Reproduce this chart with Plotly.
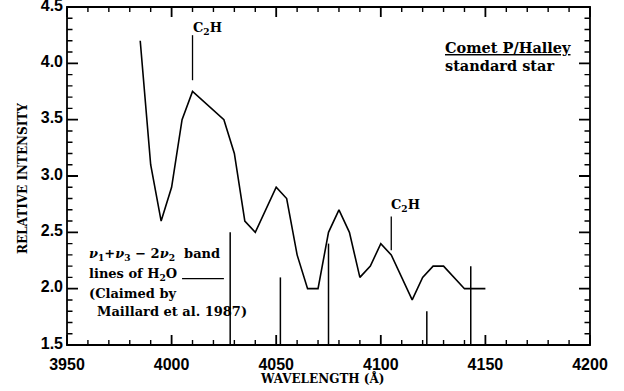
import plotly.graph_objects as go

# Spectrum (wavelength in Å, relative intensity)
wavelength = [3985, 3990, 3995, 4000, 4005, 4010, 4025, 4030, 4035, 4040, 4050, 4055,
              4060, 4065, 4070, 4075, 4080, 4085, 4090, 4095, 4100, 4105, 4115, 4120,
              4125, 4130, 4140, 4145, 4150]
intensity = [4.2, 3.1, 2.6, 2.9, 3.5, 3.75, 3.5, 3.2, 2.6, 2.5, 2.9, 2.8,
             2.3, 2.0, 2.0, 2.5, 2.7, 2.5, 2.1, 2.2, 2.4, 2.3, 1.9, 2.1,
             2.2, 2.2, 2.0, 2.0, 2.0]

# H2O band lines (Maillard et al. 1987): positions and heights
h2o_wavelength = [4028, 4052, 4075, 4122, 4143]
h2o_top = [2.5, 2.1, 2.4, 1.8, 2.2]
axis_floor = 1.5

# C2H features: position, line bottom, line top, label height
c2h_wavelength = [4010, 4105]
c2h_low = [3.85, 2.34]
c2h_high = [4.25, 2.64]
c2h_label_y = [4.31, 2.74]

# Leader line for the H2O label
leader_x = [4005, 4025]
leader_y = [2.09, 2.09]

x_range = [3950, 4200]
y_range = [1.5, 4.5]
x_ticks = [3950, 4000, 4050, 4100, 4150, 4200]
y_ticks = [1.5, 2.0, 2.5, 3.0, 3.5, 4.0, 4.5]
x_minor_step = 10
y_minor_step = 0.1

W, H = 624, 391
M = dict(l=67, r=34, t=7, b=46)
plot_w = W - M["l"] - M["r"]
plot_h = H - M["t"] - M["b"]

label_font = dict(family="DejaVu Serif", size=13, color="black", weight="bold")

fig = go.Figure()

fig.add_trace(go.Scatter(x=wavelength, y=intensity, mode="lines",
                         line=dict(color="black", width=1.6), showlegend=False))

vx, vy = [], []
for w, t in zip(h2o_wavelength, h2o_top):
    vx += [w, w, None]
    vy += [axis_floor, t, None]
fig.add_trace(go.Scatter(x=vx, y=vy, mode="lines",
                         line=dict(color="black", width=1.5), showlegend=False))

cx, cy = [], []
for w, lo, hi in zip(c2h_wavelength, c2h_low, c2h_high):
    cx += [w, w, None]
    cy += [lo, hi, None]
fig.add_trace(go.Scatter(x=cx, y=cy, mode="lines",
                         line=dict(color="black", width=1.3), showlegend=False))

fig.add_trace(go.Scatter(x=leader_x, y=leader_y, mode="lines",
                         line=dict(color="black", width=1.2), showlegend=False))

# Inward ticks on all four sides, as paper-coordinate paths built from the axis ticks
def tick_path(major):
    parts = []
    n_x = int(round((x_range[1] - x_range[0]) / x_minor_step))
    ly = (10 if major else 5) / plot_h
    for i in range(n_x + 1):
        v = x_range[0] + i * x_minor_step
        if (v in x_ticks) != major:
            continue
        p = (v - x_range[0]) / (x_range[1] - x_range[0])
        parts.append(f"M{p:.5f},0 L{p:.5f},{ly:.5f}")
        parts.append(f"M{p:.5f},1 L{p:.5f},{1 - ly:.5f}")
    n_y = int(round((y_range[1] - y_range[0]) / y_minor_step))
    lx = (11 if major else 5.5) / plot_w
    for i in range(n_y + 1):
        v = round(y_range[0] + i * y_minor_step, 2)
        if any(abs(v - t) < 1e-6 for t in y_ticks) != major:
            continue
        q = (v - y_range[0]) / (y_range[1] - y_range[0])
        parts.append(f"M0,{q:.5f} L{lx:.5f},{q:.5f}")
        parts.append(f"M1,{q:.5f} L{1 - lx:.5f},{q:.5f}")
    return " ".join(parts)

shapes = [dict(type="rect", xref="paper", yref="paper", x0=0, x1=1, y0=0, y1=1,
               line=dict(color="black", width=1.8), layer="above")]
for major, width in ((True, 1.8), (False, 1.4)):
    shapes.append(dict(type="path", xref="paper", yref="paper", path=tick_path(major),
                       line=dict(color="black", width=width), layer="above"))

annotations = []
for w, ly in zip(c2h_wavelength, c2h_label_y):
    annotations.append(dict(x=w, y=ly, xshift=-2, text="C<sub>2</sub>H", showarrow=False,
                            xanchor="left", yanchor="middle", font=label_font))

annotations += [
    dict(x=4129.7, y=4.145, text="<u>Comet P/Halley</u>", showarrow=False,
         xanchor="left", yanchor="middle", font=dict(label_font, size=14.5)),
    dict(x=4129.7, y=3.985, text="standard star", showarrow=False,
         xanchor="left", yanchor="middle", font=dict(label_font, size=14.5)),
    dict(x=3959.4, y=2.30, text="<i>ν</i><sub>1</sub>+<i>ν</i><sub>3</sub> − 2<i>ν</i><sub>2</sub>  band",
         showarrow=False, xanchor="left", yanchor="middle", font=label_font),
    dict(x=3959.4, y=2.13, text="lines of H<sub>2</sub>O", showarrow=False,
         xanchor="left", yanchor="middle", font=label_font),
    dict(x=3959.4, y=1.96, text="(Claimed by", showarrow=False,
         xanchor="left", yanchor="middle", font=label_font),
    dict(x=3963.4, y=1.80, text="Maillard et al. 1987)", showarrow=False,
         xanchor="left", yanchor="middle", font=label_font),
    dict(xref="paper", yref="paper", x=0.5, y=0, xshift=-6, yshift=-33,
         text="WAVELENGTH (Å)", showarrow=False, xanchor="center", yanchor="middle",
         font=dict(family="DejaVu Serif", size=12, color="black", weight="bold")),
    dict(xref="paper", yref="paper", x=0, y=0.5, xshift=-44, yshift=-3, textangle=-90,
         text="RELATIVE INTENSITY", showarrow=False, xanchor="center", yanchor="middle",
         font=dict(family="DejaVu Serif", size=12, color="black", weight="bold")),
]

tick_font = dict(family="Liberation Sans", size=16, color="black", weight="bold")

fig.update_xaxes(range=x_range, tickvals=x_ticks, showgrid=False, zeroline=False,
                 showline=False, ticks="", tickfont=tick_font, ticklabelstandoff=8,
                 ticklabeloverflow="allow", automargin=False)
fig.update_yaxes(range=y_range, tickvals=y_ticks, tickformat=".1f", showgrid=False,
                 zeroline=False, showline=False, ticks="", tickfont=tick_font,
                 ticklabelstandoff=3, ticklabelshift=-2, ticklabeloverflow="allow",
                 automargin=False)

fig.update_layout(width=W, height=H, margin=dict(M, autoexpand=False),
                  plot_bgcolor="white", paper_bgcolor="white",
                  font=dict(family="DejaVu Serif", color="black"),
                  annotations=annotations, shapes=shapes, showlegend=False)

fig.write_html("out.html")
